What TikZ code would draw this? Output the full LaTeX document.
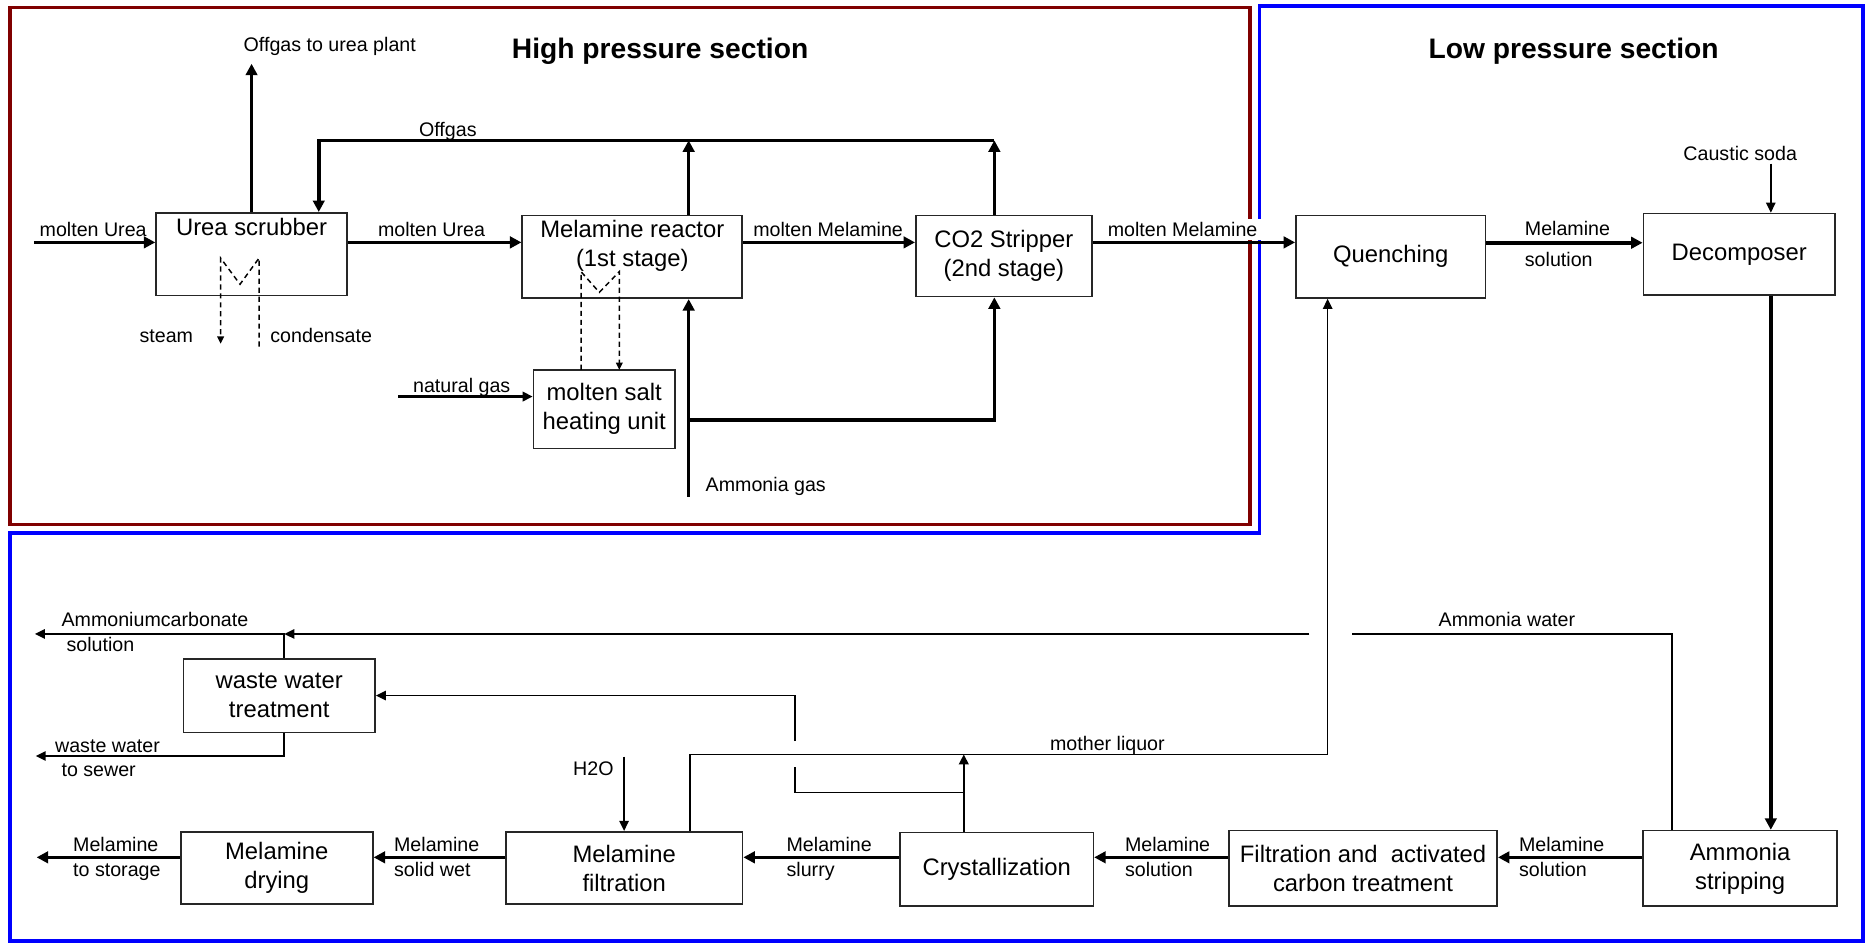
\documentclass[tikz,border=0pt]{standalone}
\usepackage{fontspec}
\setmainfont{Liberation Sans}
\usetikzlibrary{arrows.meta,calc}
\tikzset{
  mtxt/.style={font=\fontsize{11.4}{13.9}\selectfont,align=center},
  mbox/.style={draw=black!85,line width=0.8pt,mtxt,inner sep=0pt},
  mlab/.style={font=\fontsize{9.4}{11}\selectfont,inner sep=0pt,anchor=base west},
  mtitle/.style={font=\fontsize{13.5}{16}\selectfont\bfseries,anchor=base},
  mthk/.style={line width=1.7pt},
  mmed/.style={line width=1.2pt},
  mthn/.style={line width=0.75pt},
  mhx/.style={line width=0.7pt,dash pattern=on 2.5pt off 1.8pt},
  mtipL/.style={-{Triangle[length=5.5pt,width=5.5pt]}},
  mtip/.style={-{Triangle[length=4.8pt,width=4.5pt]}},
  mtipS/.style={-{Triangle[length=3.5pt,width=3.2pt]}},
  mframe/.style={line width=1.8pt},
}
\colorlet{mred}{red!50!black}
\colorlet{mblu}{blue}

\begin{document}
\begin{tikzpicture}[x=0.02cm,y=-0.02cm]
\useasboundingbox (0,0) rectangle (1568,793);
% ---- the two sections
\draw[mframe,mred] (8.3,6.3) rectangle (1051,441);
\draw[mframe,mblu] (1059,5) -- (1566,5) -- (1566,791) -- (8.3,791) -- (8.3,448) -- (1059,448) -- cycle;
\node[mtitle] (hptitle) at (555,49) {High pressure section};
\node[mtitle] (lptitle) at (1323,49) {Low pressure section};
% ---- high pressure units
\node[mbox,minimum width=3.21cm,minimum height=1.39cm,
  label={[mtxt,anchor=north,inner sep=3pt]north:Urea scrubber}] (scrub) at (211.5,213.7) {};
\node[mbox,minimum width=3.70cm,minimum height=1.39cm,
  label={[mtxt,anchor=center,yshift=0.18cm]center:{Melamine reactor\\(1st stage)}}] (reactor) at (531.6,216) {};
\node[mbox,minimum width=2.96cm,minimum height=1.36cm] (strip) at (844,215.3) {CO2 Stripper\\(2nd stage)};
\node[mbox,minimum width=2.38cm,minimum height=1.32cm] (salt) at (508,344) {molten salt\\heating unit};
% ---- low pressure units
\node[mbox,minimum width=3.19cm,minimum height=1.39cm] (quench) at (1169.3,215.8) {Quenching};
\node[mbox,minimum width=3.22cm,minimum height=1.37cm] (decomp) at (1462.2,213.8) {Decomposer};
\node[mbox,minimum width=3.22cm,minimum height=1.24cm] (waste) at (234.8,584.8) {waste water\\treatment};
\node[mbox,minimum width=3.23cm,minimum height=1.22cm] (drying) at (232.7,729.8) {Melamine\\drying};
\node[mbox,minimum width=3.98cm,minimum height=1.22cm] (mfilt) at (524.8,729.8) {Melamine\\filtration};
\node[mbox,minimum width=3.25cm,minimum height=1.24cm] (cryst) at (838,730.8) {Crystallization};
\node[mbox,minimum width=4.51cm,minimum height=1.27cm] (carbon) at (1146,730.1) {Filtration and\ \ activated\\carbon treatment};
\node[mbox,minimum width=3.26cm,minimum height=1.27cm] (nh3strip) at (1463,730.1) {Ammonia\\stripping};
% ---- main melt line
\coordinate (ureain) at (28.5,203.8);
\node[mlab] (lurea1) at (33,198.6) {molten Urea};
\node[mlab] (lurea2) at (317.5,198.6) {molten Urea};
\node[mlab] (lmel1) at (633,198.6) {molten Melamine};
\node[mlab,fill=white,inner sep=1.5pt] (lmel2) at (928.4,198.6) {molten Melamine};
\draw[mthk,mtipL] (ureain) -- (scrub.west |- ureain);
\draw[mthk,mtipL] (scrub.east |- ureain) -- (reactor.west |- ureain);
\draw[mthk,mtipL] (reactor.east |- ureain) -- (strip.west |- ureain);
\draw[mthk,mtipL] (strip.east |- ureain) -- (quench.west |- ureain);
% ---- offgas
\coordinate (offtop) at (211.5,53.6);
\coordinate (loopR) at (836,118);
\coordinate (loopL) at (268,118);
\coordinate (nh3in) at (579,417.5);
\draw[mthk,mtipL] (scrub.north) -- (offtop);
\node[mlab] (loff1) at (204.5,43.5) {Offgas to urea plant};
\draw[mthk,mtipL] (reactor.north -| nh3in) -- (nh3in |- loopR);
\draw[mthk,mtipL] (strip.north -| loopR) -- (loopR);
\draw[mthk,mtipL] (loopR) -- (loopL) -- (scrub.north -| loopL);
\node[mlab] (loff2) at (352,114.5) {Offgas};
% ---- ammonia gas and heating
\coordinate (nh3br) at (579,353);
\draw[mthk,mtipL] (nh3in) -- (reactor.south -| nh3in);
\draw[mthk,mtipL] (nh3br) -| (strip.south -| loopR);
\node[mlab] (lnh3) at (593,413) {Ammonia gas};
\coordinate (ngas) at (335,333.4);
\draw[mmed,mtip] (ngas) -- (salt.west |- ngas);
\node[mlab] (lngas) at (347,329.7) {natural gas};
\draw[mhx,mtipS] (217.8,291.5) -- (217.8,217) -- (201.8,239) -- (185.5,217) -- (185.5,289);
\node[mlab] (lsteam) at (117,288) {steam};
\node[mlab] (lcond) at (227,288) {condensate};
\draw[mhx,mtipS] (488.5,311) -- (488.5,228.4) -- (503.9,245.8) -- (520.7,228.4) -- (520.7,311);
% ---- quench, decompose, strip
\coordinate (soda) at (1488.8,137.5);
\draw[mthn,mtip] (soda) -- (decomp.north -| soda);
\node[mlab] (lsoda) at (1415,135.2) {Caustic soda};
\coordinate (qdline) at (1300,204.1);
\draw[mthk,mtipL] (quench.east |- qdline) -- (decomp.west |- qdline);
\node[mlab] (lqd1) at (1281.7,198.3) {Melamine};
\node[mlab] (lqd2) at (1281.7,224.4) {solution};
\draw[mthk,mtipL] (decomp.south -| soda) -- (nh3strip.north -| soda);
% ---- bottom row, right to left
\coordinate (botline) at (30.8,720.8);
\draw[mthk,mtipL] (nh3strip.west |- botline) -- (carbon.east |- botline);
\draw[mthk,mtipL] (carbon.west |- botline) -- (cryst.east |- botline);
\draw[mthk,mtipL] (cryst.west |- botline) -- (mfilt.east |- botline);
\draw[mthk,mtipL] (mfilt.west |- botline) -- (drying.east |- botline);
\draw[mthk,mtipL] (drying.west |- botline) -- (botline);
\foreach \X/\B [count=\i] in {1276.8/solution,945.5/solution,661/slurry,331/solid wet,61.2/to storage}{
  \node[mlab] (lbA\i) at (\X,715.6) {Melamine};
  \node[mlab] (lbB\i) at (\X,737) {\B};}
\coordinate (water) at (524.7,636.2);
\draw[mthn,mtip] (water) -- (mfilt.north -| water);
\node[mlab] (lh2o) at (481.6,652.2) {H2O};
% ---- mother liquor back to quenching
\coordinate (mlL) at (579.9,634.2);
\coordinate (mlR) at (1116.2,634.2);
\draw[mthn,mtip] (mfilt.north -| mlL) -- (mlL) -- (mlR) -- (quench.south -| mlR);
\node[mlab] (lml) at (882.5,630.6) {mother liquor};
\coordinate (crup) at (810.3,634.2);
\draw[mmed,mtip] (cryst.north -| crup) -- (crup);
\coordinate (brA) at (810.3,666.4);
\coordinate (brB) at (668.4,666.4);
\draw[mthn] (brA) -- (brB) -- ++(0,-21.3);
\draw[mthn,mtip] (668.4,623) |- (waste.east);
% ---- ammonia water and waste water
\coordinate (awR) at (1405.8,533);
\coordinate (jn) at (239,533);
\draw[mthn] (nh3strip.north -| awR) -- (awR) -- (1137,533);
\draw[mthn,mtip] (1100.8,533) -- (jn);
\node[mlab] (law) at (1209.2,526.9) {Ammonia water};
\draw[mthn,mtip] (waste.north -| jn) -- (jn) -- (29.3,533);
\node[mlab] (lac1) at (51.4,526.9) {Ammoniumcarbonate};
\node[mlab] (lac2) at (55.6,547.9) {solution};
\draw[mthn,mtip] (waste.south -| jn) |- (30,635.6);
\node[mlab] (lww1) at (46,632.5) {waste water};
\node[mlab] (lww2) at (51.4,653) {to sewer};
\end{tikzpicture}
\end{document}
